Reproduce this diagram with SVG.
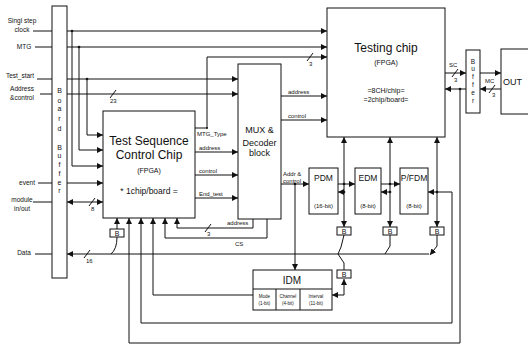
<svg xmlns="http://www.w3.org/2000/svg" width="528" height="347" viewBox="0 0 528 347">
<defs>
<marker id="ah" viewBox="0 0 6 6" refX="6" refY="3" markerWidth="6" markerHeight="6" markerUnits="userSpaceOnUse" orient="auto-start-reverse"><path d="M0,0 L6,3 L0,6 z" fill="#111"/></marker>
<style>
.box{fill:#fff;stroke:#111;stroke-width:1}
.ln{fill:none;stroke:#111;stroke-width:1}
.a{marker-end:url(#ah)}
.b{marker-start:url(#ah);marker-end:url(#ah)}
.t{font-family:"Liberation Sans",Arial,sans-serif;fill:#111}
.big{font-size:12px;text-anchor:middle}
.mid{font-size:9px;text-anchor:middle}
.sm{font-size:7px;text-anchor:middle}
.xs{font-size:6px}
.lab{font-size:6.5px;text-anchor:middle}
.dot{fill:#111}
</style>
</defs>
<rect width="528" height="347" fill="#fff"/>

<g id="input-labels">
<text class="t lab" x="22" y="23">Singl step</text>
<text class="t lab" x="22" y="32">clock</text>
<text class="t lab" x="24" y="49">MTG</text>
<text class="t lab" x="20" y="78">Test_start</text>
<text class="t lab" x="22" y="91">Address</text>
<text class="t lab" x="22" y="100">&amp;control</text>
<text class="t lab" x="27" y="185">event</text>
<text class="t lab" x="22" y="202">module</text>
<text class="t lab" x="22" y="211">in/out</text>
<text class="t lab" x="24" y="255">Data</text>
</g>

<g id="board-buffer">
<rect class="box" x="52" y="6" width="15" height="272"/>
<g class="t sm" font-size="8">
<text x="59.5" y="93">B</text><text x="59.5" y="103">o</text><text x="59.5" y="111">a</text><text x="59.5" y="121">r</text><text x="59.5" y="131">d</text>
<text x="59.5" y="150">B</text><text x="59.5" y="158">u</text><text x="59.5" y="167">f</text><text x="59.5" y="176">f</text><text x="59.5" y="185">e</text><text x="59.5" y="193">r</text>
</g>
</g>

<g id="tscc">
<rect class="box" x="103" y="111" width="92" height="107"/>
<text class="t big" x="149" y="145">Test Sequence</text>
<text class="t big" x="149" y="159">Control Chip</text>
<text class="t sm" x="149" y="173">(FPGA)</text>
<text class="t" font-size="8.5" text-anchor="middle" x="149" y="194">* 1chip/board =</text>
</g>

<g id="mux">
<rect class="box" x="238" y="64" width="43" height="155"/>
<text class="t mid" x="259.5" y="133">MUX &amp;</text>
<text class="t mid" x="259.5" y="146">Decoder</text>
<text class="t mid" x="259.5" y="156">block</text>
</g>

<g id="testing-chip">
<rect class="box" x="327" y="8" width="118" height="129"/>
<text class="t big" x="386" y="52">Testing chip</text>
<text class="t sm" x="386" y="65">(FPGA)</text>
<text class="t sm" x="386" y="93">=8CH/chip=</text>
<text class="t sm" x="386" y="102">=2chip/board=</text>
</g>

<g id="out-buffer">
<rect class="box" x="466" y="50" width="14" height="63"/>
<g class="t" font-size="6.5" text-anchor="middle">
<text x="473" y="64">B</text><text x="473" y="71">u</text><text x="473" y="79">f</text><text x="473" y="87">f</text><text x="473" y="95">e</text><text x="473" y="103">r</text>
</g>
</g>

<g id="dut">
<rect class="box" x="501" y="49" width="32" height="65"/>
<text class="t" font-size="9" x="503" y="85">OUT</text>
</g>

<g id="pdm">
<rect class="box" x="309" y="168" width="29" height="46"/>
<text class="t" font-size="8.5" text-anchor="middle" x="323.5" y="181">PDM</text>
<text class="t xs" text-anchor="middle" x="323.5" y="208">(16-bit)</text>
</g>
<g id="edm">
<rect class="box" x="355" y="168" width="26" height="46"/>
<text class="t" font-size="8.5" text-anchor="middle" x="368" y="181">EDM</text>
<text class="t xs" text-anchor="middle" x="368" y="208">(8-bit)</text>
</g>
<g id="pfdm">
<rect class="box" x="400" y="168" width="28" height="46"/>
<text class="t" font-size="8.5" text-anchor="middle" x="414" y="181">P/FDM</text>
<text class="t xs" text-anchor="middle" x="414" y="208">(8-bit)</text>
</g>

<g id="idm">
<rect class="box" x="253" y="270" width="79" height="40"/>
<line class="ln" x1="253" y1="289" x2="332" y2="289"/>
<line class="ln" x1="276" y1="289" x2="276" y2="310"/>
<line class="ln" x1="300" y1="289" x2="300" y2="310"/>
<text class="t" font-size="10" text-anchor="middle" x="292" y="284">IDM</text>
<g class="t" font-size="4.5" text-anchor="middle">
<text x="264.5" y="298">Mode</text><text x="264.5" y="305">(1-bit)</text>
<text x="288" y="298">Channel</text><text x="288" y="305">(4-bit)</text>
<text x="316" y="298">Interval</text><text x="316" y="305">(11-bit)</text>
</g>
</g>

<g id="b-tscc"><rect class="box" x="110" y="229" width="14" height="8"/><text class="t" font-size="7" text-anchor="middle" x="117" y="236">B</text></g>
<g id="b-pdm"><rect class="box" x="337" y="227" width="14" height="8"/><text class="t" font-size="7" text-anchor="middle" x="344" y="234">B</text></g>
<g id="b-edm"><rect class="box" x="383" y="227" width="14" height="8"/><text class="t" font-size="7" text-anchor="middle" x="390" y="234">B</text></g>
<g id="b-pfdm"><rect class="box" x="430" y="227" width="14" height="8"/><text class="t" font-size="7" text-anchor="middle" x="437" y="234">B</text></g>
<g id="b-idm"><rect class="box" x="337" y="270" width="14" height="8"/><text class="t" font-size="7" text-anchor="middle" x="344" y="277">B</text></g>

<g id="connectors">
<!-- external inputs to board buffer -->
<path class="ln" d="M33,31 H52 M35,47 H52 M37,79 H52 M40,94 H52 M38,183 H52 M33,202 H52 M35,254 H52"/>
<!-- clock -->
<path class="ln a" d="M67,31 H327"/>
<path class="ln a" d="M72,31 V166 H103"/>
<!-- MTG -->
<path class="ln a" d="M67,47 H327"/>
<path class="ln a" d="M79,47 V150 H103"/>
<!-- Test_start -->
<path class="ln a" d="M67,79 H238"/>
<path class="ln a" d="M87,79 V135 H103"/>
<!-- address & control -->
<path class="ln a" d="M67,94 H238"/>
<path class="ln" d="M110,98 L116,90"/>
<text class="t xs" x="110" y="103">23</text>
<!-- event, module in/out -->
<path class="ln a" d="M67,183 H103"/>
<path class="ln b" d="M67,202 H103"/>
<path class="ln" d="M89,206 L95,198"/>
<text class="t xs" x="91" y="211">8</text>
<!-- MTG_Type -->
<path class="ln a" d="M195,128 H207 V57 H327"/>
<path class="ln" d="M307,61 L313,53"/>
<text class="t xs" x="309" y="66">3</text>
<text class="t xs" x="197" y="136">MTG_Type</text>
<!-- TSCC to MUX -->
<path class="ln a" d="M195,152 H238"/>
<text class="t xs" x="199" y="150">address</text>
<path class="ln a" d="M195,175 H238"/>
<text class="t xs" x="199" y="173">control</text>
<path class="ln a" d="M195,198 H238"/>
<text class="t xs" x="199" y="196">End_test</text>
<!-- MUX to testing chip -->
<path class="ln a" d="M281,96 H327"/>
<text class="t xs" x="288" y="94">address</text>
<path class="ln a" d="M281,120 H327"/>
<text class="t xs" x="288" y="118">control</text>
<!-- Addr & control bus -->
<text class="t xs" x="283" y="176">Addr &amp;</text>
<text class="t xs" x="283" y="183">control</text>
<path class="ln a" d="M281,184 H309"/>
<path class="ln a" d="M338,184 H355"/>
<path class="ln a" d="M381,184 H400"/>
<path class="ln a" d="M295,184 V270"/>
<!-- testing chip to modules / B -->
<path class="ln b" d="M344,137 V227"/>
<path class="ln b" d="M390,137 V227"/>
<path class="ln b" d="M437,137 V227"/>
<path class="ln a" d="M344,192 H338"/>
<path class="ln a" d="M390,192 H381"/>
<path class="ln a" d="M437,192 H428"/>
<!-- P/FDM loop to TSCC -->
<path class="ln a" d="M437,192 H452 V323 H141 V218"/>
<!-- testing chip / out buffer -->
<path class="ln a" d="M445,73 H466"/>
<path class="ln" d="M452,77 L458,69"/>
<text class="t xs" x="449" y="67">SC</text>
<text class="t xs" x="454" y="82">3</text>
<path class="ln a" d="M466,89 H445"/>
<path class="ln a" d="M460,89 V343 H129 V218"/>
<path class="ln a" d="M480,73 H501"/>
<path class="ln a" d="M501,89 H480"/>
<path class="ln" d="M489,93 L495,85"/>
<text class="t xs" x="485" y="83">MC</text>
<text class="t xs" x="492" y="97">3</text>
<!-- IDM to TSCC -->
<path class="ln a" d="M253,295 H153 V218"/>
<!-- CS and address from MUX -->
<path class="ln a" d="M267,219 V238 H165 V218"/>
<text class="t xs" x="235" y="246">CS</text>
<path class="ln a" d="M253,219 V228 H177 V218"/>
<text class="t xs" x="227" y="225">address</text>
<path class="ln" d="M205,232 L211,224"/>
<text class="t xs" x="207" y="236">3</text>
<!-- Data bus -->
<path class="ln a" d="M429,254 H67"/>
<path class="ln" d="M84,258 L90,250"/>
<text class="t xs" x="86" y="263">16</text>
<path class="ln a" d="M117,229 V218"/>
<path class="ln" d="M117,237 Q117,249 111,254"/>
<path class="ln" d="M344,235 L341,247 L338,254 L344,263 L344,270"/>
<path class="ln" d="M390,235 V246 L385,254"/>
<path class="ln a" d="M437,235 V246 L430,255"/>
<path class="ln b" d="M344,279 V295 H332"/>
</g>

<g id="junctions">
<circle class="dot" cx="72" cy="31" r="1.3"/>
<circle class="dot" cx="79" cy="47" r="1.3"/>
<circle class="dot" cx="87" cy="79" r="1.3"/>
<circle class="dot" cx="207" cy="128" r="1"/>
<circle class="dot" cx="295" cy="184" r="1.3"/>
<circle class="dot" cx="344" cy="184" r="1.3"/>
<circle class="dot" cx="390" cy="184" r="1.3"/>
<circle class="dot" cx="344" cy="192" r="1.3"/>
<circle class="dot" cx="390" cy="192" r="1.3"/>
<circle class="dot" cx="437" cy="192" r="1.3"/>
<circle class="dot" cx="460" cy="89" r="1.3"/>
</g>
</svg>
